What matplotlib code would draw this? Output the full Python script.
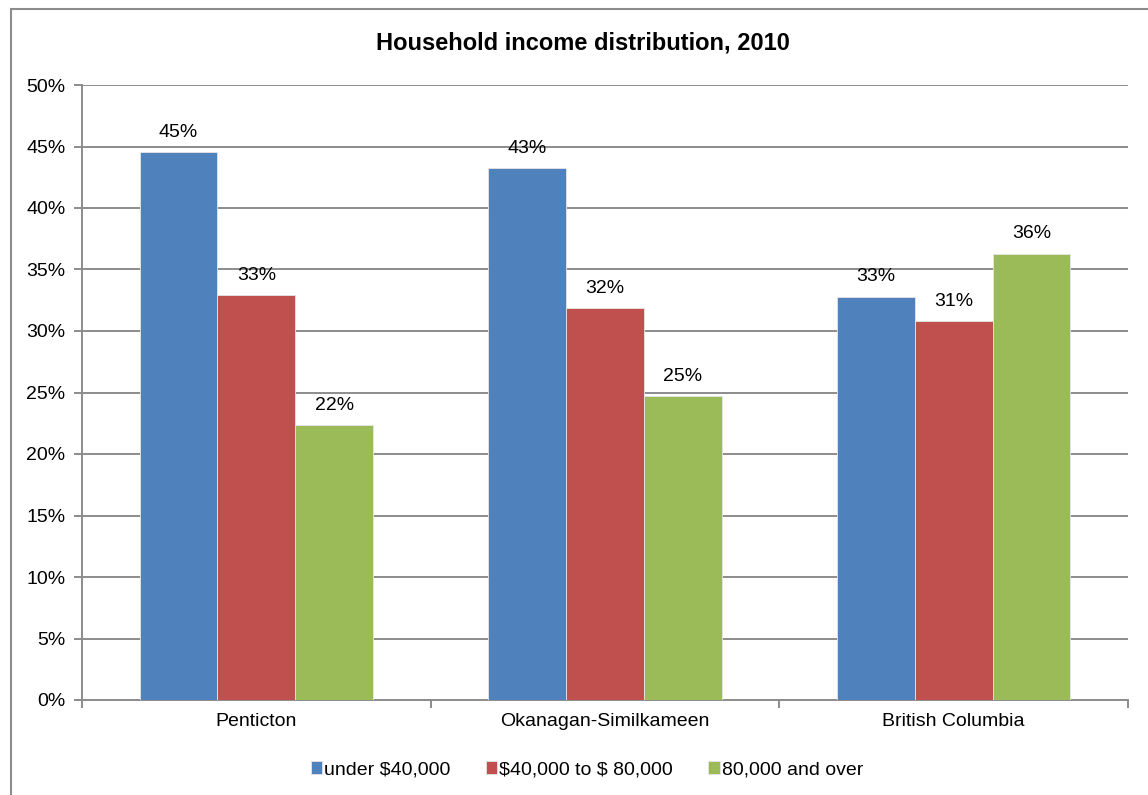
import numpy as np
import matplotlib.pyplot as plt
from matplotlib.patches import Rectangle

plt.rcParams['font.family'] = ['Liberation Sans', 'DejaVu Sans']
plt.rcParams['text.parse_math'] = False

regions = ['Penticton', 'Okanagan-Similkameen', 'British Columbia']
series = ['under $40,000', '$40,000 to $ 80,000', '80,000 and over']
under_40k = [0.4455, 0.4325, 0.328]
mid_40k_80k = [0.329, 0.319, 0.308]
over_80k = [0.2235, 0.247, 0.363]
colors = ['#4F81BD', '#C0504D', '#9BBB59']

fig = plt.figure(figsize=(11.48, 7.95), dpi=100)
ax = fig.add_axes([82 / 1148, 1 - 700 / 795, 1046 / 1148, 615 / 795])

# outer chart frame (cut off at right and bottom)
fig.patches.append(Rectangle((11 / 1148, -0.1), 1.2, 1 - 9 / 795 + 0.1,
                             transform=fig.transFigure, fill=False,
                             edgecolor='#8c8c8c', linewidth=1.5, zorder=0))

x = np.arange(len(regions))
w = 0.223
for i, (vals, name) in enumerate(zip([under_40k, mid_40k_80k, over_80k], series)):
    pos = x + (i - 1) * w
    ax.bar(pos, vals, width=w, color=colors[i], label=name, zorder=3,
           edgecolor='#e6e6e6', linewidth=0.6)
    for p, v in zip(pos, vals):
        ax.text(p, v + 0.009, f'{v:.0%}', ha='center', va='bottom', fontsize=14)

ax.set_xlim(-0.5, 2.5)
ax.set_ylim(0, 0.5)
ax.set_yticks(np.arange(0, 0.51, 0.05))
ax.set_yticklabels([f'{t:.0%}' for t in np.arange(0, 0.51, 0.05)], fontsize=14)
ax.yaxis.grid(True, color='#8c8c8c', linewidth=1.4, zorder=0)
ax.set_axisbelow(True)

ax.set_xticks([-0.5, 0.5, 1.5, 2.5])
ax.set_xticklabels([])
ax.set_xticks(x, minor=True)
ax.set_xticklabels(regions, minor=True, fontsize=14)
ax.tick_params(axis='x', which='minor', length=0, pad=9)
ax.tick_params(axis='x', which='major', length=6, color='#8c8c8c', width=1.4)
ax.tick_params(axis='y', length=6, color='#8c8c8c', width=1.4, pad=6)

for s in ['top', 'right']:
    ax.spines[s].set_visible(False)
for s in ['left', 'bottom']:
    ax.spines[s].set_color('#8c8c8c')
    ax.spines[s].set_linewidth(1.4)

fig.text(583 / 1148, 1 - 43 / 795, 'Household income distribution, 2010',
         ha='center', va='center', fontsize=17, fontweight='bold')

fig.legend(loc='center', bbox_to_anchor=(587 / 1148, 1 - 770 / 795), ncol=3,
           frameon=False, fontsize=14, handlelength=0.6, handleheight=0.6,
           handletextpad=0.1, columnspacing=1.8)

fig.savefig('out.png', dpi=100)
